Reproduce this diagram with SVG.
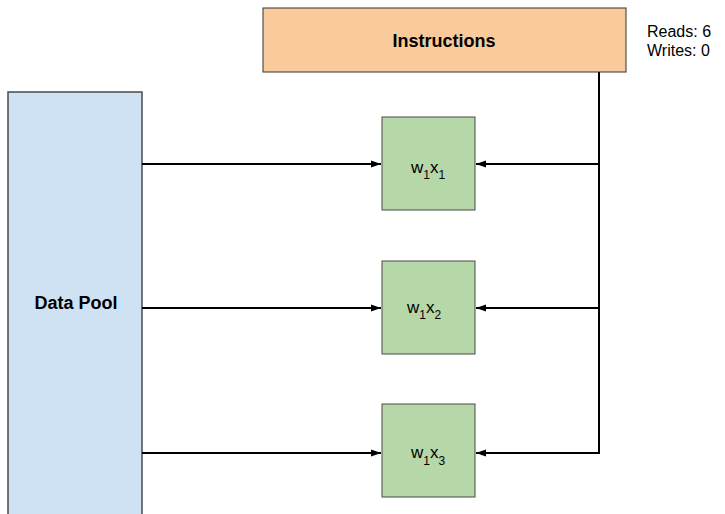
<svg xmlns="http://www.w3.org/2000/svg" width="725" height="514" viewBox="0 0 725 514">
<style>
text{font-family:"Liberation Sans",Arial,sans-serif;fill:#000}
.b{font-weight:bold;font-size:18px}
.t{font-size:16px}
.m{font-size:17px}
.s{font-size:12px}
.c{stroke:#000;stroke-width:2;fill:none}
.g{fill:#b6d7a8;stroke:#4a4a4a;stroke-width:1}
</style>
<defs>
<marker id="ah" markerWidth="10" markerHeight="8" refX="10" refY="4" orient="auto" markerUnits="userSpaceOnUse">
<path d="M0,0.5 L10,4 L0,7.5 Z" fill="#000"/>
</marker>
</defs>
<g id="instructions">
<rect x="263" y="8" width="363" height="64" fill="#f9cb9c" stroke="#333" stroke-width="1"/>
<text class="b" x="444" y="47" text-anchor="middle">Instructions</text>
</g>
<g id="stats">
<text class="t" x="647" y="37">Reads: 6</text>
<text class="t" x="647" y="56">Writes: 0</text>
</g>
<g id="datapool">
<rect x="8" y="92" width="134" height="430" fill="#cfe2f3" stroke="#4a4a4a" stroke-width="1.5"/>
<text class="b" x="76" y="309" text-anchor="middle">Data Pool</text>
</g>
<g id="node1">
<rect class="g" x="382" y="117" width="93" height="93"/>
<text class="m" x="411" y="173">w<tspan class="s" dy="6">1</tspan><tspan dy="-6">x</tspan><tspan class="s" dy="6">1</tspan></text>
</g>
<g id="node2">
<rect class="g" x="382" y="261" width="93" height="93"/>
<text class="m" x="407" y="313">w<tspan class="s" dy="6">1</tspan><tspan dy="-6">x</tspan><tspan class="s" dy="6">2</tspan></text>
</g>
<g id="node3">
<rect class="g" x="382" y="404" width="93" height="93"/>
<text class="m" x="411" y="458">w<tspan class="s" dy="7">1</tspan><tspan dy="-7">x</tspan><tspan class="s" dy="7">3</tspan></text>
</g>
<g id="connectors">
<line class="c" x1="142" y1="164" x2="381" y2="164" marker-end="url(#ah)"/>
<line class="c" x1="142" y1="308" x2="381" y2="308" marker-end="url(#ah)"/>
<line class="c" x1="142" y1="453" x2="381" y2="453" marker-end="url(#ah)"/>
<path class="c" d="M599,72 L599,453 L476,453" marker-end="url(#ah)"/>
<line class="c" x1="599" y1="164" x2="476" y2="164" marker-end="url(#ah)"/>
<line class="c" x1="599" y1="308" x2="476" y2="308" marker-end="url(#ah)"/>
</g>
</svg>
